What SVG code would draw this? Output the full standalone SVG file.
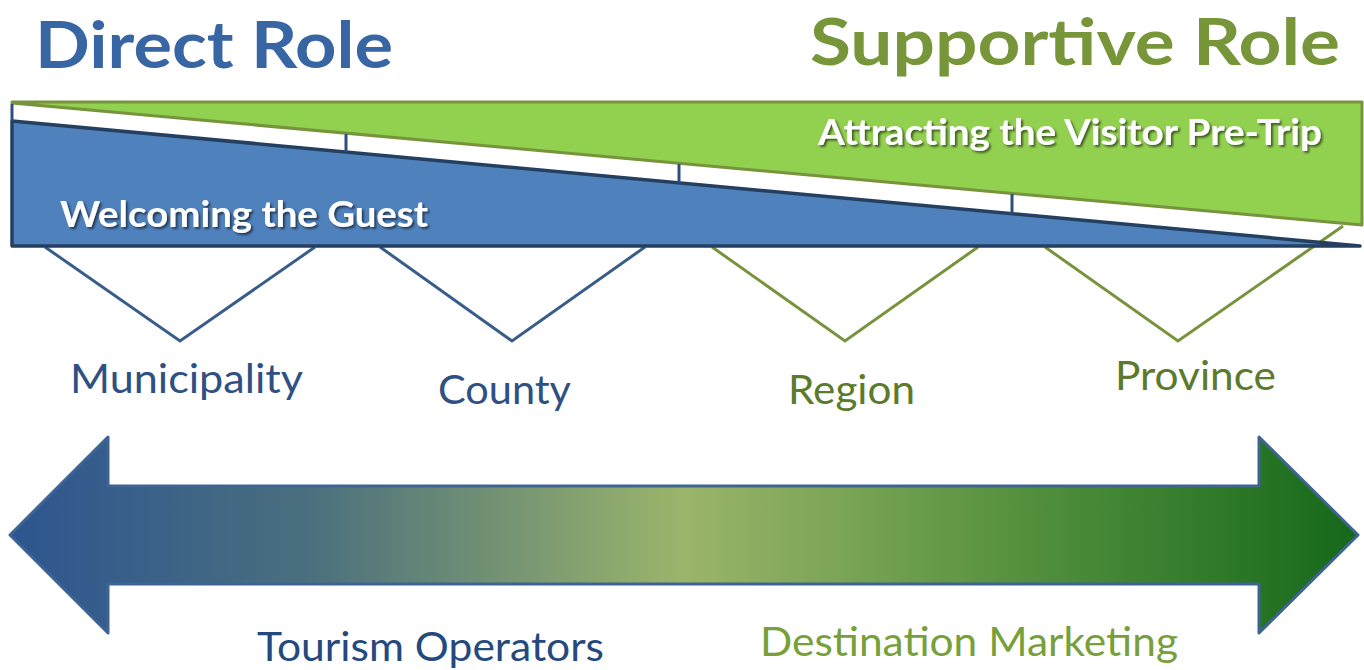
<svg xmlns="http://www.w3.org/2000/svg" width="1364" height="670" viewBox="0 0 1364 670">
  <defs>
    <linearGradient id="spectrum" x1="10" y1="0" x2="1358" y2="0" gradientUnits="userSpaceOnUse">
      <stop offset="0" stop-color="#2C5590"/>
      <stop offset="0.22" stop-color="#4A6F7E"/>
      <stop offset="0.5" stop-color="#9BB56A"/>
      <stop offset="0.78" stop-color="#4C8C3A"/>
      <stop offset="1" stop-color="#16681A"/>
    </linearGradient>
    <filter id="shadow" x="-5%" y="-30%" width="110%" height="160%">
      <feDropShadow dx="2" dy="2" stdDeviation="1.2" flood-color="#000" flood-opacity="0.55"/>
    </filter>
  </defs>
  <style>
    text { font-family: Lato, "Open Sans", "Liberation Sans", sans-serif; }
    .title { font-size: 65px; font-weight: bold; }
    .band { font-size: 37px; font-weight: bold; fill: #FFFFFF; filter: url(#shadow); }
    .level { font-size: 41px; }
    .foot { font-size: 41px; }
    .blue-v { fill: none; stroke: #385D8A; stroke-width: 3; stroke-linejoin: miter; }
    .green-v { fill: none; stroke: #77933C; stroke-width: 3; stroke-linejoin: miter; }
    .divider { stroke: #2E4F7E; stroke-width: 3; }
  </style>

  <!-- headings -->
  <g id="direct-role">
    <text class="title" x="35" y="68" fill="#3865A3" textLength="358" lengthAdjust="spacingAndGlyphs">Direct Role</text>
  </g>
  <g id="supportive-role">
    <text class="title" x="810" y="65" fill="#77963A" textLength="530" lengthAdjust="spacingAndGlyphs">Supportive Role</text>
  </g>

  <!-- level connectors (V shapes hanging under the bar) -->
  <g id="connectors">
    <polyline class="blue-v" points="45,247 180,341 315,247"/>
    <polyline class="blue-v" points="380,247 512,341 645,247"/>
    <polyline class="green-v" points="712,247 845,341 978,247"/>
    <polyline class="green-v" points="1045,247 1178,341 1343,226"/>
  </g>

  <!-- role bar: pre-trip wedge (green) over welcoming wedge (blue) -->
  <g id="pre-trip-wedge">
    <polygon points="12,102 1362,102 1362,225 12,103" fill="#92D050" stroke="#77933C" stroke-width="3" stroke-linejoin="round"/>
    <text class="band" x="818" y="145" textLength="504" lengthAdjust="spacingAndGlyphs">Attracting the Visitor Pre-Trip</text>
  </g>
  <g id="welcoming-wedge">
    <polygon points="12,121 1360,246 12,246" fill="#4F81BD" stroke="#243F60" stroke-width="3.5" stroke-linejoin="round"/>
    <line class="divider" x1="12" y1="104" x2="12" y2="121"/>
    <line class="divider" x1="346" y1="134" x2="346" y2="152"/>
    <line class="divider" x1="679" y1="164" x2="679" y2="183"/>
    <line class="divider" x1="1012" y1="194" x2="1012" y2="214"/>
    <text class="band" x="60" y="227" textLength="368" lengthAdjust="spacingAndGlyphs">Welcoming the Guest</text>
  </g>

  <!-- levels -->
  <g id="municipality">
    <text class="level" x="70" y="393" fill="#2E5082" textLength="233" lengthAdjust="spacingAndGlyphs">Municipality</text>
  </g>
  <g id="county">
    <text class="level" x="438" y="404" fill="#2E5082" textLength="133" lengthAdjust="spacingAndGlyphs">County</text>
  </g>
  <g id="region">
    <text class="level" x="788" y="404" fill="#5B7A2C" textLength="127" lengthAdjust="spacingAndGlyphs">Region</text>
  </g>
  <g id="province">
    <text class="level" x="1115" y="390" fill="#5B7A2C" textLength="161" lengthAdjust="spacingAndGlyphs">Province</text>
  </g>

  <!-- spectrum arrow -->
  <g id="spectrum-arrow">
    <polygon points="10,535 108,437 108,486 1259,486 1259,437 1358,535 1259,633 1259,584 108,584 108,633" fill="url(#spectrum)" stroke="#3E6494" stroke-width="3" stroke-linejoin="round"/>
  </g>

  <g id="tourism-operators">
    <text class="foot" x="257" y="661" fill="#24497E" textLength="347" lengthAdjust="spacingAndGlyphs">Tourism Operators</text>
  </g>
  <g id="destination-marketing">
    <text class="foot" x="760" y="656" fill="#77A03A" textLength="418" lengthAdjust="spacingAndGlyphs">Destination Marketing</text>
  </g>
</svg>
